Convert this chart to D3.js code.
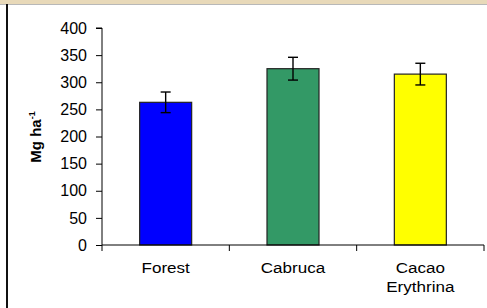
<!DOCTYPE html>
<html>
<head>
<meta charset="utf-8">
<script src="https://cdn.jsdelivr.net/npm/d3@7"></script>
<style>
  html, body { margin: 0; padding: 0; background: #fff; }
  svg { display: block; font-family: "Liberation Sans", Arial, sans-serif; }
</style>
</head>
<body>
<div id="chart"></div>
<script>
// biomass by land use
const categories = ['Forest', 'Cabruca', 'Cacao Erythrina'];
const values = [263, 325, 315];
const errors = [19, 21, 20];
const colors = ['#0000ff', '#339966', '#ffff00'];
const yTicks = [0, 50, 100, 150, 200, 250, 300, 350, 400];

const width = 487;
const height = 308;

const svg = d3.select('#chart')
    .append('svg')
    .attr('width', width)
    .attr('height', height);

// page frame bits: beige strip on top and dark rule on the left
svg.append('rect').attr('x', 0).attr('y', 0).attr('width', width).attr('height', 4).attr('fill', '#e8d9b9');
svg.append('line').attr('x1', 0).attr('x2', width).attr('y1', 4.5).attr('y2', 4.5).attr('stroke', '#b8b8b8');
svg.append('rect').attr('x', 6).attr('y', 4).attr('width', 2).attr('height', height).attr('fill', '#111');

const x = d3.scaleBand()
    .domain(categories)
    .range([102, 484])
    .paddingInner(0)
    .paddingOuter(0);

const y = d3.scaleLinear()
    .domain([0, 400])
    .range([245, 28]);

const barW = 52;

// bars
svg.append('g').selectAll('rect')
    .data(categories)
    .join('rect')
    .attr('x', (d) => x(d) + x.bandwidth() / 2 - barW / 2)
    .attr('y', (d, i) => y(values[i]))
    .attr('width', barW)
    .attr('height', (d, i) => y(0) - y(values[i]))
    .attr('fill', (d, i) => colors[i])
    .attr('stroke', '#222')
    .attr('stroke-width', 1.2);

// error bars
const eb = svg.append('g').attr('stroke', '#000').attr('stroke-width', 1.4);
categories.forEach((c, i) => {
    const cx = x(c) + x.bandwidth() / 2;
    const top = y(values[i] + errors[i]);
    const bot = y(values[i] - errors[i]);
    eb.append('line').attr('x1', cx).attr('x2', cx).attr('y1', top).attr('y2', bot);
    eb.append('line').attr('x1', cx - 5).attr('x2', cx + 5).attr('y1', top).attr('y2', top);
    eb.append('line').attr('x1', cx - 5).attr('x2', cx + 5).attr('y1', bot).attr('y2', bot);
});

// y axis
const yAxis = svg.append('g')
    .attr('transform', 'translate(102,0)')
    .call(d3.axisLeft(y).tickValues(yTicks).tickSize(6).tickPadding(8));
yAxis.select('.domain').attr('stroke', '#000').attr('d', `M-6,${y(400)}H0V${y(0)}`);
yAxis.selectAll('.tick line').attr('stroke', '#000');
yAxis.selectAll('.tick text')
    .attr('font-size', 16)
    .attr('x', -15)
    .attr('font-family', '"Liberation Sans", Arial, sans-serif')
    .attr('fill', '#000');

// x axis: ticks at category boundaries
svg.append('line')
    .attr('x1', 102).attr('x2', 484)
    .attr('y1', y(0)).attr('y2', y(0))
    .attr('stroke', '#000');
const bounds = categories.map((c) => x(c)).concat([x.range()[1]]);
svg.append('g').selectAll('line')
    .data(bounds)
    .join('line')
    .attr('x1', (d) => d).attr('x2', (d) => d)
    .attr('y1', y(0)).attr('y2', y(0) + 6)
    .attr('stroke', '#000');

// category labels (wrap two-word label), slightly stretched like the source
const labels = svg.append('g')
    .attr('font-size', 15.5)
    .attr('text-anchor', 'middle')
    .attr('fill', '#000');
categories.forEach((c) => {
    const cx = x(c) + x.bandwidth() / 2;
    const lines = c === 'Cacao Erythrina' ? c.split(' ') : [c];
    const t = labels.append('text')
        .attr('transform', `translate(${cx},273) scale(1.1,1)`);
    lines.forEach((ln, k) => {
        t.append('tspan').attr('x', 0).attr('dy', k === 0 ? 0 : 19).text(ln);
    });
});

// y label
const yl = svg.append('text')
    .attr('transform', 'translate(41,137) rotate(-90)')
    .attr('text-anchor', 'middle')
    .attr('font-size', 15)
    .attr('font-weight', 'bold')
    .attr('fill', '#000');
yl.append('tspan').text('Mg ha');
yl.append('tspan').attr('dy', -6).attr('font-size', 9).text('-1');
</script>
</body>
</html>
